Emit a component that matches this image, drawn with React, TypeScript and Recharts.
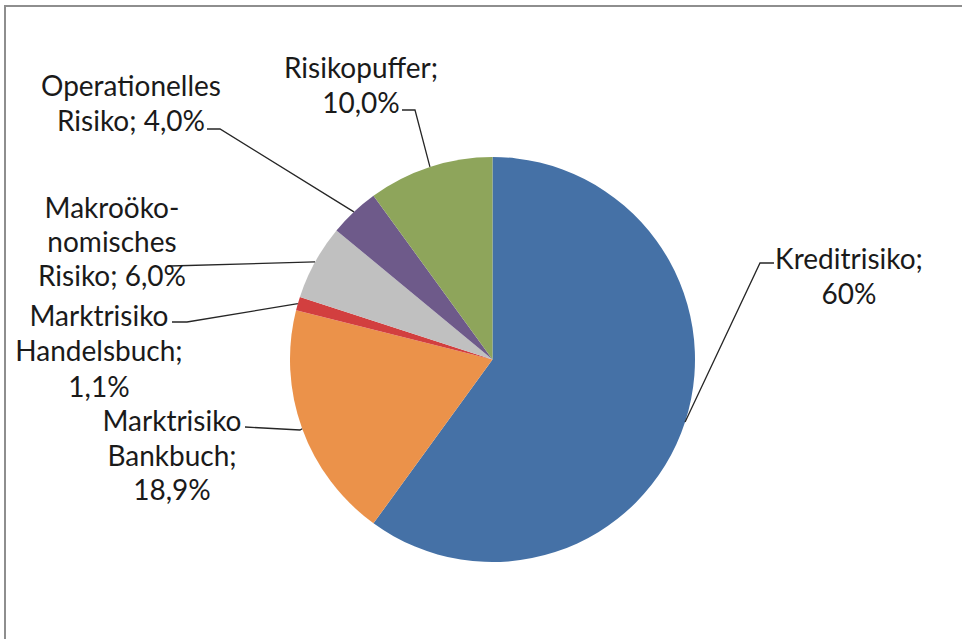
import React from 'react';
import { PieChart, Pie, Cell } from 'recharts';

const categories = [
  'Kreditrisiko',
  'Marktrisiko Bankbuch',
  'Marktrisiko Handelsbuch',
  'Makroökonomisches Risiko',
  'Operationelles Risiko',
  'Risikopuffer',
];
const values = [60, 18.9, 1.1, 6.0, 4.0, 10.0];
const labelTexts = [
  ['Kreditrisiko;', '60%'],
  ['Marktrisiko', 'Bankbuch;', '18,9%'],
  ['Marktrisiko', 'Handelsbuch;', '1,1%'],
  ['Makroöko-', 'nomisches', 'Risiko; 6,0%'],
  ['Operationelles', 'Risiko; 4,0%'],
  ['Risikopuffer;', '10,0%'],
];

const colors = ['#4571A6', '#EB924A', '#D23F3F', '#C0C0C0', '#6E5A8A', '#8EA55B'];

// label layout (positions of label text and leader-line elbows)
const labelLayout = [
  { x: 849, ys: [258, 293], pts: [[760, 263], [774, 263]] },
  { x: 172, ys: [420, 455, 489], pts: [[300, 430], [245, 427]] },
  { x: 99, ys: [315, 350, 386], pts: [[187, 322], [172, 322]] },
  { x: 112, ys: [207, 241, 275], pts: [[170, 266]] },
  { x: 131, ys: [85, 120], pts: [[220, 129], [207, 129]] },
  { x: 361, ys: [67, 102], pts: [[415, 110], [402, 110]] },
];

const data = categories.map((name, i) => ({ name, value: values[i] }));

const RADIAN = Math.PI / 180;

const renderLabel = (props: any) => {
  const { cx, cy, midAngle, outerRadius, index } = props;
  const sx = cx + outerRadius * Math.cos(-midAngle * RADIAN);
  const sy = cy + outerRadius * Math.sin(-midAngle * RADIAN);
  const lay = labelLayout[index];
  const pts = [[sx, sy], ...lay.pts].map((p) => p.join(',')).join(' ');
  return (
    <g key={`lbl-${index}`}>
      <polyline points={pts} fill="none" stroke="#262626" strokeWidth={1.3} />
      {labelTexts[index].map((t, j) => (
        <text
          key={j}
          x={lay.x}
          y={lay.ys[j]}
          textAnchor="middle"
          dominantBaseline="central"
          fill="#1a1a1a"
          fontFamily="Lato, 'Open Sans', sans-serif"
          fontSize={28}
        >
          {t}
        </text>
      ))}
    </g>
  );
};

export default function App() {
  return (
    <div style={{ position: 'absolute', left: 0, top: 0, width: 962, height: 639, overflow: 'hidden' }}>
      <div
        style={{
          position: 'absolute',
          left: 4,
          top: 5,
          width: 958,
          height: 634,
          borderLeft: '2px solid #8e8e8e',
          borderTop: '2px solid #8e8e8e',
          boxSizing: 'border-box',
        }}
      />
      <div style={{ position: 'absolute', left: 0, top: 0 }}>
        <PieChart width={962} height={639} margin={{ top: 0, right: 0, bottom: 0, left: 0 }}>
          <Pie
            data={data}
            dataKey="value"
            nameKey="name"
            cx={492.5}
            cy={359.5}
            outerRadius={202.5}
            startAngle={90}
            endAngle={-270}
            stroke="none"
            label={renderLabel}
            labelLine={false}
            isAnimationActive={false}
          >
            {data.map((d, i) => (
              <Cell key={d.name} fill={colors[i]} />
            ))}
          </Pie>
        </PieChart>
      </div>
    </div>
  );
}
